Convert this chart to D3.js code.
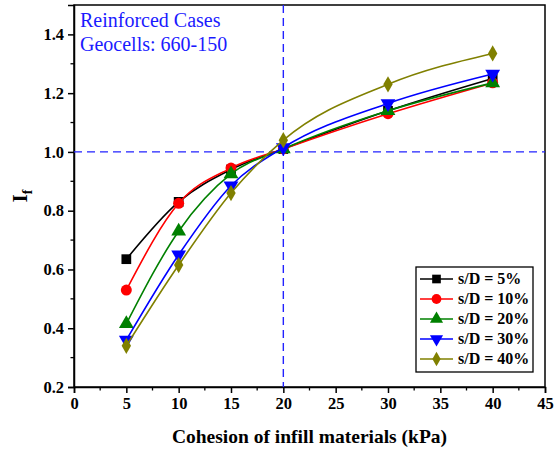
<!DOCTYPE html>
<html>
<head>
<meta charset="utf-8">
<script src="https://cdn.jsdelivr.net/npm/d3@7"></script>
</head>
<body style="margin:0; background:#fff">
<svg id="chart"></svg>
<script>
const width = 559;
const height = 453;
const margin = {top: 5, right: 14, bottom: 66, left: 74};
const serif = "'Liberation Serif'";

// data
const cohesion = [5, 10, 15, 20, 30, 40];
const seriesNames = ['s/D = 5%', 's/D = 10%', 's/D = 20%', 's/D = 30%', 's/D = 40%'];
const sd5  = [0.635, 0.830, 0.940, 1.010, 1.140, 1.250];
const sd10 = [0.530, 0.825, 0.945, 1.010, 1.130, 1.235];
const sd20 = [0.415, 0.730, 0.925, 1.010, 1.140, 1.235];
const sd30 = [0.360, 0.650, 0.885, 1.015, 1.165, 1.265];
const sd40 = [0.340, 0.615, 0.860, 1.040, 1.230, 1.335];
const xTicks = [0, 5, 10, 15, 20, 25, 30, 35, 40, 45];
const yTicks = [0.2, 0.4, 0.6, 0.8, 1.0, 1.2, 1.4];

const colors = ['#000000', '#ff0000', '#008000', '#0000ff', '#808000'];
const symbols = [d3.symbolSquare, d3.symbolCircle, d3.symbolTriangle, 'down', d3.symbolDiamond];

const series = [sd5, sd10, sd20, sd30, sd40].map((vals, i) => ({
    name: seriesNames[i],
    color: colors[i],
    symbol: symbols[i],
    points: cohesion.map((c, j) => ({x: c, y: vals[j]}))
}));

const svg = d3.select('#chart').attr('width', width).attr('height', height);

const x = d3.scaleLinear().domain([0, 45]).range([margin.left, width - margin.right]);
const y = d3.scaleLinear().domain([0.2, 1.5]).range([height - margin.bottom, margin.top]);

// frame
svg.append('rect')
    .attr('x', x(0)).attr('y', y(1.5))
    .attr('width', x(45) - x(0)).attr('height', y(0.2) - y(1.5))
    .attr('fill', 'none').attr('stroke', '#000').attr('stroke-width', 1.5);

// minor ticks
const xMinor = d3.range(2.5, 45, 5);
const yMinor = d3.range(0.3, 1.5, 0.2);

const xAxis = svg.append('g').attr('transform', `translate(0, ${y(0.2)})`);
xAxis.call(d3.axisBottom(x).tickValues(xTicks).tickSize(6).tickPadding(4).tickFormat(d3.format('d')));
xAxis.append('g').selectAll('line').data(xMinor).join('line')
    .attr('x1', d => x(d)).attr('x2', d => x(d)).attr('y1', 0).attr('y2', 3.5).attr('stroke', '#000').attr('stroke-width', 1.3);

const yAxis = svg.append('g').attr('transform', `translate(${x(0)}, 0)`);
yAxis.call(d3.axisLeft(y).tickValues(yTicks).tickSize(6).tickPadding(4).tickFormat(d3.format('.1f')));
yAxis.append('g').selectAll('line').data(yMinor).join('line')
    .attr('y1', d => y(d)).attr('y2', d => y(d)).attr('x1', 0).attr('x2', -3.5).attr('stroke', '#000').attr('stroke-width', 1.3);

[xAxis, yAxis].forEach(a => {
    a.select('.domain').attr('stroke-width', 1.5);
    a.selectAll('.tick line').attr('stroke-width', 1.5);
    a.selectAll('text')
        .style('font-family', serif)
        .attr('font-size', 16.5).attr('font-weight', 'bold').attr('fill', '#000');
});

// axis titles
svg.append('text')
    .attr('x', (x(0) + x(45)) / 2).attr('y', 443)
    .attr('text-anchor', 'middle')
    .style('font-family', serif)
    .attr('font-size', 19.5).attr('font-weight', 'bold')
    .text('Cohesion of infill materials (kPa)');

const yTitle = svg.append('text')
    .attr('transform', `translate(27, ${y(0.85)}) rotate(-90)`)
    .attr('text-anchor', 'middle')
    .style('font-family', serif)
    .attr('font-size', 21).attr('font-weight', 'bold');
yTitle.append('tspan').text('I');
yTitle.append('tspan').attr('font-size', 14).attr('dy', 5).text('f');

// reference lines
svg.append('line')
    .attr('x1', x(0)).attr('x2', x(45)).attr('y1', y(1.0)).attr('y2', y(1.0))
    .attr('stroke', '#2222ff').attr('stroke-width', 1.4).attr('stroke-dasharray', '8,5');
svg.append('line')
    .attr('x1', x(20)).attr('x2', x(20)).attr('y1', y(1.5)).attr('y2', y(0.2))
    .attr('stroke', '#2222ff').attr('stroke-width', 1.4).attr('stroke-dasharray', '8,5');

// annotation
svg.append('text').attr('x', x(0) + 6).attr('y', 27)
    .style('font-family', serif)
    .attr('font-size', 20).attr('fill', '#1a1aff').text('Reinforced Cases');
svg.append('text').attr('x', x(0) + 6).attr('y', 51)
    .style('font-family', serif)
    .attr('font-size', 20).attr('fill', '#1a1aff').text('Geocells: 660-150');

const line = d3.line().x(d => x(d.x)).y(d => y(d.y)).curve(d3.curveMonotoneX);

function marker(g, s, size) {
    if (s.symbol === 'down') {
        g.append('path')
            .attr('d', d3.symbol().type(d3.symbolTriangle).size(size)())
            .attr('transform', 'rotate(180)')
            .attr('fill', s.color);
    } else {
        g.append('path')
            .attr('d', d3.symbol().type(s.symbol).size(s.symbol === d3.symbolDiamond ? size * 0.8 : size)())
            .attr('fill', s.color);
    }
}

series.forEach(s => {
    svg.append('path').datum(s.points)
        .attr('d', line)
        .attr('fill', 'none').attr('stroke', s.color).attr('stroke-width', 1.6);
    svg.append('g').selectAll('g').data(s.points).join('g')
        .attr('transform', d => `translate(${x(d.x)}, ${y(d.y)})`)
        .each(function() { marker(d3.select(this), s, 95); });
});

// legend
const legend = svg.append('g').attr('transform', 'translate(416, 267)');
legend.append('rect').attr('width', 117).attr('height', 105)
    .attr('fill', '#fff').attr('stroke', '#000').attr('stroke-width', 1.3);
series.forEach((s, i) => {
    const g = legend.append('g').attr('transform', `translate(0, ${12 + i * 20})`);
    g.append('line').attr('x1', 4).attr('x2', 37).attr('stroke', s.color).attr('stroke-width', 1.6);
    const m = g.append('g').attr('transform', 'translate(20.5, 0)');
    marker(m, s, 75);
    g.append('text').attr('x', 42).attr('y', 5)
        .style('font-family', serif)
        .attr('font-size', 16).attr('font-weight', 'bold').text(s.name);
});
</script>
</body>
</html>
